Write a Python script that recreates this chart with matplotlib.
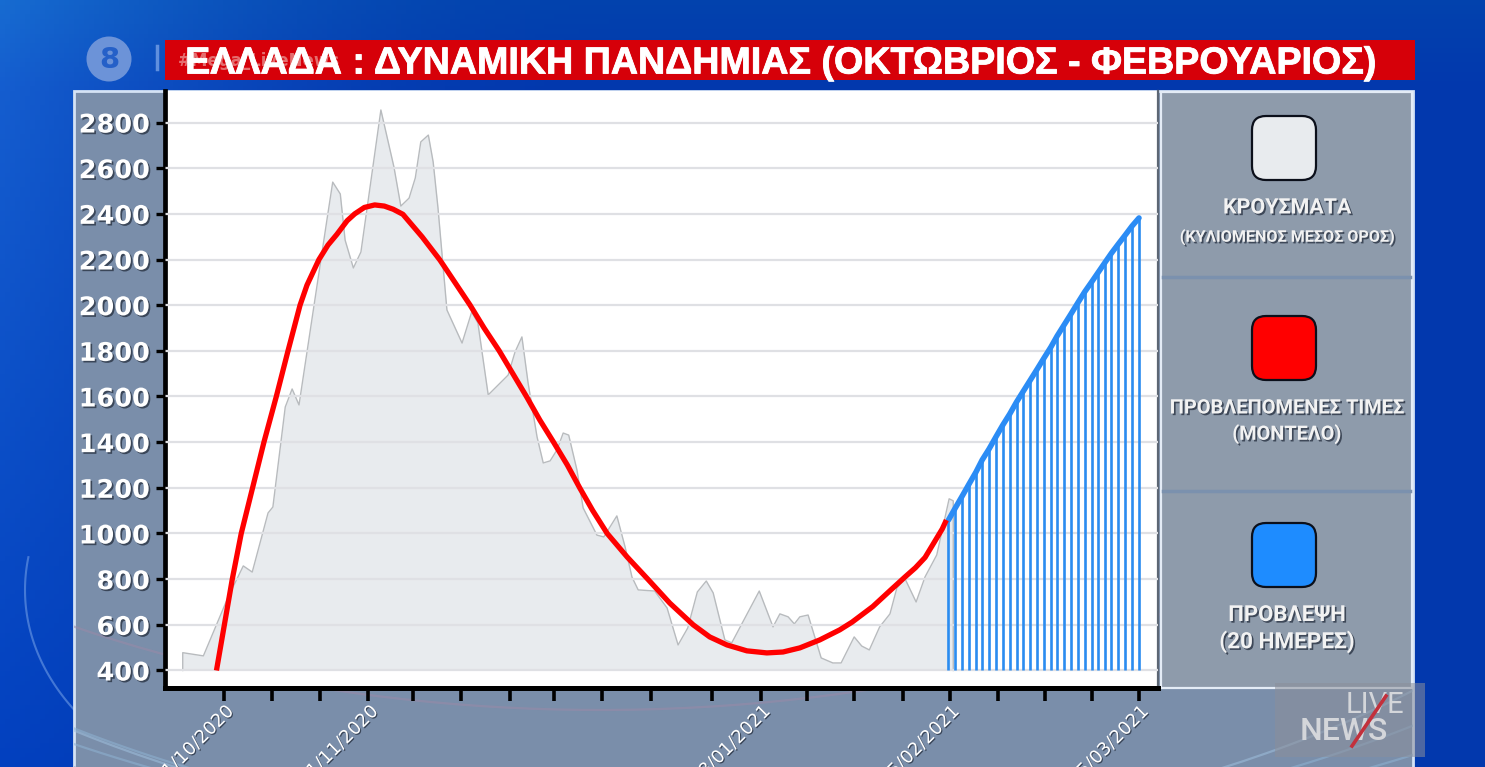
import numpy as np
import matplotlib
matplotlib.use("Agg")
import matplotlib.pyplot as plt
import matplotlib.patheffects as pe
from matplotlib.patches import FancyBboxPatch, Rectangle, Circle
from matplotlib.transforms import ScaledTranslation

# dias contados desde el 21/10/2020
casos_dias = [-6.0, -3.0, 0.6, 2.8, 4.1, 6.4, 7.1, 8.9, 9.9, 10.9, 15.0, 15.8, 16.9, 17.6, 18.8, 19.9,
              22.8, 24.7, 25.7, 26.9, 27.8, 28.6, 29.7, 30.4, 31.1, 32.4, 34.6, 36.0, 36.9, 38.4, 41.3,
              42.3, 43.3, 44.2, 45.5, 46.4, 47.4, 48.4, 49.3, 50.1, 51.3, 52.2, 54.2, 55.2, 57.1, 58.3,
              59.3, 60.2, 62.6, 64.4, 66.0, 67.4, 68.8, 70.1, 71.1, 72.8, 73.8, 77.8, 79.8, 80.8, 82.0,
              82.9, 83.7, 84.9, 86.8, 88.5, 89.7, 91.6, 92.7, 93.8, 95.3, 96.8, 97.8, 99.0, 100.6, 101.9,
              103.6, 105.4, 106.0]
casos_valores = [478, 464, 722, 858, 831, 1090, 1116, 1554, 1633, 1563, 2382, 2539, 2487, 2285, 2163, 2233,
                 2855, 2605, 2434, 2469, 2557, 2715, 2745, 2627, 2426, 1979, 1834, 1970, 1922, 1607, 1694,
                 1795, 1861, 1659, 1423, 1309, 1318, 1366, 1440, 1431, 1278, 1112, 993, 985, 1077, 941,
                 809, 753, 748, 674, 512, 586, 744, 792, 740, 534, 521, 748, 591, 648, 635,
                 604, 635, 643, 455, 433, 433, 547, 507, 490, 591, 648, 761, 801, 700, 810,
                 906, 1152, 1143]

modelo_dias = [-1.1, 0.05, 1.2, 2.5, 4.15, 5.8, 7.6, 9.3, 11.05, 12.06, 13.8, 15.1, 16.4, 17.9, 19.0, 20.4,
               21.9, 23.3, 24.6, 26.0, 28.8, 31.4, 33.6, 35.75, 37.8, 40.0, 42.0, 44.0, 45.9, 47.9, 49.9,
               51.7, 53.6, 55.7, 58.6, 61.6, 64.8, 68.2, 70.6, 73.1, 76.0, 78.9, 81.25, 83.7, 86.6, 89.5,
               91.3, 94.3, 97.0, 99.0, 100.5, 101.9, 103.6, 104.4, 105.0]
modelo_valores = [400, 600, 800, 1000, 1200, 1400, 1600, 1800, 2000, 2088, 2200, 2263, 2310, 2370, 2400, 2428,
                  2439, 2434, 2420, 2398, 2299, 2197, 2098, 2001, 1900, 1800, 1699, 1598, 1497, 1400, 1300,
                  1200, 1100, 1000, 897, 800, 695, 600, 547, 512, 486, 477, 481, 499, 534, 578,
                  612, 680, 755, 810, 850, 895, 980, 1020, 1059]

prediccion_dias = [105.3, 106.3, 107.3, 108.3, 109.3, 110.2, 111.2, 112.2, 113.2, 114.2, 115.2, 116.2, 117.2,
                   118.2, 119.2, 120.2, 121.1, 122.1, 123.1, 124.1, 125.1, 126.1, 127.1, 128.1, 129.0, 130.0,
                   131.0, 132.0, 133.0]
prediccion_valores = [1059, 1112, 1164, 1217, 1269, 1322, 1370, 1423, 1475, 1523, 1576, 1624, 1672, 1720, 1769,
                      1817, 1865, 1913, 1961, 2010, 2058, 2101, 2145, 2189, 2228, 2268, 2307, 2347, 2382]

y_ticks = [400, 600, 800, 1000, 1200, 1400, 1600, 1800, 2000, 2200, 2400, 2600, 2800]
x_ticks = [0, 7, 14, 21, 27.5, 34.5, 41.5, 48, 55, 62, 71, 78, 84.7, 91.6, 98.7, 105.5, 112.5, 119.3, 126.2, 133]
x_labels = ["21/10/2020", "", "", "11/11/2020", "", "", "", "", "", "", "", "08/01/2021", "", "", "",
            "05/02/2021", "", "", "", "05/03/2021"]

titulo = "ΕΛΛΑΔΑ : ΔΥΝΑΜΙΚΗ ΠΑΝΔΗΜΙΑΣ (ΟΚΤΩΒΡΙΟΣ - ΦΕΒΡΟΥΑΡΙΟΣ)"

W, H = 1485, 767


def sombra(dx=1.2, dy=-1.2):
    return [pe.SimplePatchShadow(offset=(dx, dy), shadow_rgbFace="#2a3444", alpha=0.8), pe.Normal()]


def fondo(fig):
    bg = fig.add_axes([0, 0, 1, 1], zorder=0)
    bg.axis("off")

    # degradado azul del estudio
    xx, yy = np.meshgrid(np.linspace(0, 1, 300), np.linspace(0, 1, 160))
    izq = np.clip(1 - xx * 2.4, 0, 1) ** 2
    arriba = np.clip(1 - yy * 9, 0, 1)
    img = np.zeros((160, 300, 3))
    img[..., 0] = 0.01 + 0.08 * izq * (1 - yy)
    img[..., 1] = 0.22 + 0.16 * izq * (1 - yy * 0.8) + 0.04 * arriba
    img[..., 2] = 0.68 + 0.14 * izq * (1 - yy * 0.5)
    bg.imshow(img, extent=[0, W, H, 0], aspect="auto", zorder=0)
    bg.set_xlim(0, W)
    bg.set_ylim(H, 0)

    # panel principal
    panel = Rectangle((74, 91), 1339, 690, fc="#7a8eaa", ec="#d5e3f5", lw=2, zorder=1)
    bg.add_patch(panel)

    # arcos decorativos
    for cx, cy, r, c in [(700, 300, 640, "#9fc0de"), (740, 250, 700, "#8fb3d3"), (760, 170, 800, "#8fb3d3"),
                         (780, 120, 880, "#8aa9cb"), (600, 200, 600, "#9a8aa8")]:
        t = np.linspace(np.pi * 0.1, np.pi * 0.95, 200)
        arco, = bg.plot(cx + 1.6 * r * np.cos(t), cy + 0.85 * r * np.sin(t), color=c, lw=1.6, alpha=0.55,
                        zorder=1.2)
        arco.set_clip_path(panel)
    t = np.linspace(np.pi * 0.62, np.pi * 1.05, 80)
    bg.plot(300 + 275 * np.cos(t), 590 + 210 * np.sin(t), color="#5f8fe0", lw=1.5, alpha=0.7, zorder=0.5)

    # cabecera
    bg.add_patch(Circle((109, 59), 22.5, fc="#6c93d8", ec="none", zorder=2))
    bg.text(109, 60, "8", color="#2560c8", fontsize=21, fontweight="bold", ha="center", va="center", zorder=3)
    bg.plot([157, 157], [46, 69], color="#5f8fde", lw=2.5, zorder=2)
    bg.add_patch(Rectangle((165, 40), 1250, 40, fc="#d60009", ec="none", zorder=2))
    bg.text(178, 61, "#Mega_LiveNews", color="#e88a8a", fontsize=12, fontweight="bold", ha="left",
            va="center", alpha=0.8, zorder=3)
    bg.text(780, 63.5, titulo, color="white", fontsize=27.1, fontweight="bold", family="Liberation Sans",
            ha="center", va="center", zorder=4,
            path_effects=[pe.withStroke(linewidth=0.6, foreground="white")])

    # panel de leyenda
    bg.add_patch(Rectangle((1161, 92), 251, 596, fc="#8e9bab", ec="#e4ecf6", lw=1.6, zorder=2))
    for y in [277, 491]:
        bg.plot([1163, 1410], [y, y], color="#7b91ae", lw=2.5, zorder=3)

    leyenda = [(116, "#e8ebee"), (316, "#ff0000"), (523, "#1e8cff")]
    for y, color in leyenda:
        bg.add_patch(FancyBboxPatch((1264, y + 12), 40, 40, boxstyle="round,pad=12,rounding_size=14", fc=color,
                                    ec="#0b0f1a", lw=1.6, zorder=3))

    textos = [(208, "ΚΡΟΥΣΜΑΤΑ", 15.4), (237, "(ΚΥΛΙΟΜΕΝΟΣ ΜΕΣΟΣ ΟΡΟΣ)", 11.6),
              (408, "ΠΡΟΒΛΕΠΟΜΕΝΕΣ ΤΙΜΕΣ", 14.4), (434, "(ΜΟΝΤΕΛΟ)", 14.3),
              (615, "ΠΡΟΒΛΕΨΗ", 15.9), (642, "(20 ΗΜΕΡΕΣ)", 16.2)]
    for y, txt, size in textos:
        bg.text(1287, y, txt, color="#f2f2f2", fontsize=size, fontweight="bold", family="Roboto", ha="center",
                va="center", zorder=4, path_effects=sombra())

    # logo del canal
    bg.add_patch(Rectangle((1275, 683), 150, 74, fc="#8b8f9a", ec="none", alpha=0.55, zorder=4))
    bg.text(1404, 705, "LIVE", color="#d4d6da", fontsize=21, family="Roboto", ha="right", va="center", zorder=5)
    bg.text(1344, 731, "NEWS", color="#d4d6da", fontsize=23, family="Roboto", fontweight="medium", ha="center",
            va="center", zorder=5)
    bg.plot([1352, 1386], [746, 696], color="#c2303c", lw=2.6, zorder=6)


def generar_grafico():
    fig = plt.figure(figsize=(W / 100, H / 100), dpi=100)
    fondo(fig)

    ax = fig.add_axes([165 / W, 1 - 687.5 / H, (1158 - 165) / W, (687.5 - 91) / H], zorder=2)
    ax.set_facecolor("white")
    ax.set_xlim(-8.58, 135.76)
    ax.set_ylim(325.5, 2938)

    ax.fill_between(casos_dias, casos_valores, 400, color="#e8ebee", lw=0, zorder=1)
    ax.plot([casos_dias[0]] + casos_dias + [casos_dias[-1]], [400] + casos_valores + [400],
            color="#b8bbbe", lw=1, zorder=1.5)

    ax.vlines(prediccion_dias, 400, prediccion_valores, color="#2b8cf0", lw=1.9, zorder=3)
    ax.plot(prediccion_dias, prediccion_valores, color="#2b8cf5", lw=4, solid_capstyle="round", zorder=4)
    ax.plot(modelo_dias, modelo_valores, color="#ff0000", lw=3.8, solid_capstyle="butt",
            solid_joinstyle="round", zorder=4)

    ax.set_yticks(y_ticks)
    ax.set_xticks(x_ticks)
    ax.set_xticklabels(x_labels, rotation=45, ha="right", rotation_mode="anchor", color="white", fontsize=13,
                       family="DejaVu Sans", path_effects=sombra(0.8, -0.8))
    desplazo = ScaledTranslation(-6 / 100, 0, fig.dpi_scale_trans)
    for lab in ax.get_xticklabels():
        lab.set_transform(lab.get_transform() + desplazo)
    for lab in ax.get_yticklabels():
        lab.set_path_effects(sombra())
        lab.set_fontweight("bold")
    ax.tick_params(axis="y", length=6.5, width=2.4, color="black", labelsize=18.4, labelcolor="white", pad=4.5)
    ax.tick_params(axis="x", length=9, width=2.6, color="black", pad=2)

    ax.grid(axis="y", color="#dfe0e4", lw=1.6)
    ax.set_axisbelow(False)
    ax.spines["top"].set_visible(False)
    ax.spines["right"].set_color("#5c6674")
    ax.spines["right"].set_linewidth(1.6)
    ax.spines["left"].set_linewidth(3.4)
    ax.spines["bottom"].set_linewidth(3.6)

    fig.savefig("out.png", dpi=100)


if __name__ == "__main__":
    generar_grafico()
